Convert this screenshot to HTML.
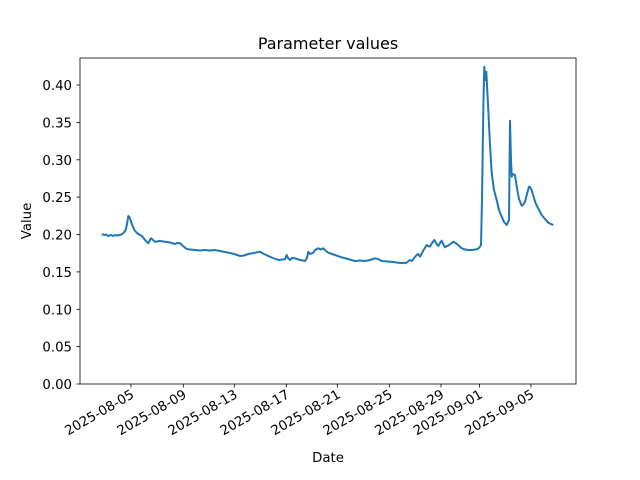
<!DOCTYPE html>
<html><head><meta charset="utf-8"><style>body{margin:0;background:#fff}svg{display:block;font-family:"DejaVu Sans","Liberation Sans",sans-serif}</style></head><body>
<svg width="640" height="480" viewBox="0 0 640 480">
<rect width="640" height="480" fill="#fff"/>
<text x="328" y="49" font-size="16">
<tspan text-anchor="middle" x="328">Parameter values</tspan></text>
<g font-size="13.3" text-anchor="end">
<g stroke="#000" stroke-width="0.8">
<line x1="76.5" x2="80" y1="384" y2="384"/><line x1="76.5" x2="80" y1="346.6" y2="346.6"/><line x1="76.5" x2="80" y1="309.3" y2="309.3"/><line x1="76.5" x2="80" y1="271.9" y2="271.9"/><line x1="76.5" x2="80" y1="234.5" y2="234.5"/><line x1="76.5" x2="80" y1="197.1" y2="197.1"/><line x1="76.5" x2="80" y1="159.8" y2="159.8"/><line x1="76.5" x2="80" y1="122.4" y2="122.4"/><line x1="76.5" x2="80" y1="85" y2="85"/>
</g>
<text x="72" y="389">0.00</text><text x="72" y="351.6">0.05</text><text x="72" y="314.3">0.10</text><text x="72" y="276.9">0.15</text><text x="72" y="239.5">0.20</text><text x="72" y="202.1">0.25</text><text x="72" y="164.8">0.30</text><text x="72" y="127.4">0.35</text><text x="72" y="90">0.40</text>
</g>
<g stroke="#000" stroke-width="0.8">
<line x1="131" x2="131" y1="384" y2="387.5"/><line x1="183.3" x2="183.3" y1="384" y2="387.5"/><line x1="234.3" x2="234.3" y1="384" y2="387.5"/><line x1="286.3" x2="286.3" y1="384" y2="387.5"/><line x1="337.3" x2="337.3" y1="384" y2="387.5"/><line x1="389.3" x2="389.3" y1="384" y2="387.5"/><line x1="441" x2="441" y1="384" y2="387.5"/><line x1="479.5" x2="479.5" y1="384" y2="387.5"/><line x1="531" x2="531" y1="384" y2="387.5"/>
</g>
<g font-size="13.3" text-anchor="end">
<text transform="translate(135,397) rotate(-30)">2025-08-05</text>
<text transform="translate(187.3,397) rotate(-30)">2025-08-09</text>
<text transform="translate(238.3,397) rotate(-30)">2025-08-13</text>
<text transform="translate(290.3,397) rotate(-30)">2025-08-17</text>
<text transform="translate(341.3,397) rotate(-30)">2025-08-21</text>
<text transform="translate(393.3,397) rotate(-30)">2025-08-25</text>
<text transform="translate(445,397) rotate(-30)">2025-08-29</text>
<text transform="translate(483.5,397) rotate(-30)">2025-09-01</text>
<text transform="translate(535,397) rotate(-30)">2025-09-05</text>
</g>
<text x="328" y="462" font-size="13.3" text-anchor="middle">Date</text>
<text transform="translate(31,221) rotate(-90)" font-size="13.3" text-anchor="middle">Value</text>
<polyline fill="none" stroke="#1f77b4" stroke-width="2" stroke-linejoin="round" points="101.7,234 104,235 106,234.5 108,236 111,235 113,236 115,235 118,235.5 121.7,234.3 123.5,233 125.7,230 127,224 128.3,216 129.5,217 131,221.7 134.3,230 137,233 140,235 142,236 145,240 147,242 148.3,243.3 150,240 151,238.3 153,240 155,241.7 160,241 165,241.7 170,242.5 175,244 177,243 180,243.3 183,246 186.7,249 190,249.5 195,250 200,250.5 205,250 210,250.5 215,250 220,251 228.3,252.7 234,254 240,256 244,255.5 248.3,254 254,253 260,251.7 264,254 268.3,256 273,258 278.3,260 282,259.5 285,259.3 286.7,255 288,258 290,260 292,258 295,258.3 300,260 305,261 307,258 308.3,251.7 310,254 313.3,252.7 315,250 318.3,248.3 321,249.5 323.3,248.3 326,251 328.3,252.7 335,255 341.7,257.3 348,259 355,261 360,260.5 365,261 370,260 375,258.3 378,259 381.7,261 388,261.5 395,262.3 400,263 406.7,262.7 408,261.5 410,260 412,261 414,258 416.7,255 418,254 420,256.7 423,251 426.7,245 428,246 430,246.7 432,243 434.3,240 436,243 438.3,246 440,243 441.7,240.7 443,244 445,247.3 449,245 453.3,241.7 457,244 461.7,248.3 465,249.5 468.3,250 472,250 476.7,249.3 479,248 481,245 482,200 482.7,150 483.5,100 484.3,66.7 485.3,80 486.3,71.7 487,85 488.3,110 490,145 491.7,173 494,190 496.7,200 499,210 501.7,216.7 504,222 506.7,225 509,220 510,120.7 511,160 511.7,176.7 513,174 515,175 516,182 517.3,190 519,199 521.7,205.7 523,205 525,201.7 527,194 529,186.7 530,187 531.7,190 533,195 535.7,203.3 538,208 541.7,215 545,219 548.3,222.7 551,224 553.3,225"/>
<rect x="80" y="58" width="496" height="326" fill="none" stroke="#000" stroke-width="0.8"/>
</svg>
</body></html>
